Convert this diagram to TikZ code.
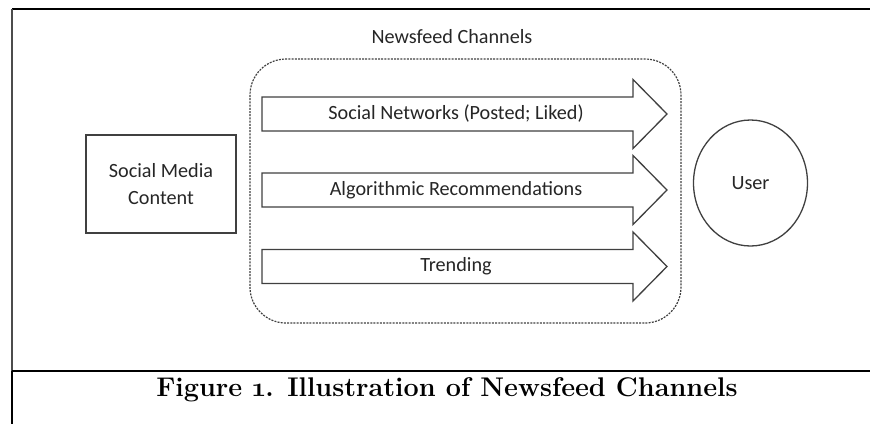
\documentclass[tikz,border=0pt]{standalone}
\usepackage{fontspec}
\setmainfont{Carlito}
\newfontfamily\capfont[Numbers=OldStyle]{Latin Modern Roman}
\usetikzlibrary{shapes.geometric}
\definecolor{linegray}{HTML}{404040}
\definecolor{textgray}{HTML}{262626}
\tikzset{
  diagtext/.style={font=\fontsize{20.2}{27}\selectfont, text=textgray, inner sep=0pt},
  channelarrow/.style={draw=linegray, line width=1.3pt, line join=miter, fill=white},
  contentbox/.style={draw=linegray, line width=1.3pt, minimum width=150pt, minimum height=98pt, align=center, diagtext},
  userellipse/.style={ellipse, draw=linegray, line width=1.3pt, minimum width=114pt, minimum height=126pt, diagtext},
  groupbox/.style={draw=linegray, line width=1.2pt, dash pattern=on 2pt off 1.2pt, rounded corners=36pt},
}
\begin{document}
\begin{tikzpicture}[x=1pt, y=-1pt]
\useasboundingbox (0,0) rectangle (870,424);
% frame
\draw[line width=1.6pt, black] (12,9) -- (870,9);
\draw[line width=1.3pt, black!70] (12,9) -- (12,371);
\draw[line width=2.2pt, black] (12,371) -- (12,424);
\draw[line width=2.2pt, black] (12,371) -- (870,371);
% group box
\draw[groupbox] (250,59) rectangle (681,323);
\node[diagtext] (title) at (452,37) {Newsfeed Channels};
% arrows
\foreach \c/\nm in {114/a1, 190/a2, 266.5/a3}{
  \draw[channelarrow] (262,\c-17) -- (633,\c-17) -- (633,\c-34.5) -- (667,\c) -- (633,\c+34.5) -- (633,\c+17) -- (262,\c+17) -- cycle;
}
\node[diagtext] (t1) at (456,114) {Social Networks (Posted; Liked)};
\node[diagtext] (t2) at (456,190) {Algorithmic Recommendations};
\node[diagtext] (t3) at (456,266.5) {Trending};
% content box
\node[contentbox] (content) at (161,184) {Social Media\\Content};
% user
\node[userellipse] (user) at (750.5,183) {User};
% caption
\node[font=\capfont\bfseries\fontsize{27}{30}\selectfont, anchor=base, inner sep=0pt] (caption) at (447,396) {Figure 1. Illustration of Newsfeed Channels};
\end{tikzpicture}
\end{document}
